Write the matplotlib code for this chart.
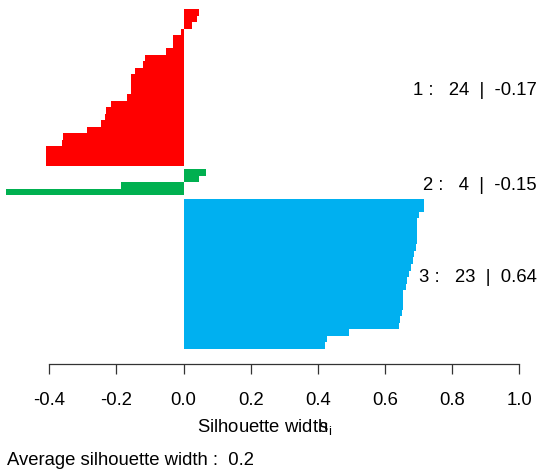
import matplotlib
matplotlib.use("Agg")
import matplotlib.pyplot as plt
import numpy as np

# silhouette widths, sorted within each cluster (top bar first)
sil_1 = [0.045, 0.039, 0.024, -0.006, -0.030, -0.030, -0.051, -0.114,
         -0.120, -0.144, -0.156, -0.156, -0.156, -0.168, -0.216, -0.231,
         -0.234, -0.246, -0.287, -0.359, -0.362, -0.410, -0.410, -0.410]
sil_2 = [0.066, 0.045, -0.186, -0.530]
sil_3 = [0.716, 0.716, 0.701, 0.695, 0.695, 0.695, 0.695, 0.692, 0.686,
         0.683, 0.677, 0.671, 0.665, 0.662, 0.653, 0.653, 0.653, 0.650,
         0.644, 0.641, 0.494, 0.428, 0.422]
clusters = [sil_1, sil_2, sil_3]
cluster_labels = ["1 :   24  |  -0.17", "2 :   4  |  -0.15", "3 :   23  |  0.64"]
colors = ["#FF0000", "#00B050", "#00B0F0"]
xticks = [-0.4, -0.2, 0.0, 0.2, 0.4, 0.6, 0.8, 1.0]
xtick_labels = ["-0.4", "-0.2", "0.0", "0.2", "0.4", "0.6", "0.8", "1.0"]
avg_width = "0.2"

plt.rcParams["font.family"] = ["Liberation Sans", "DejaVu Sans"]
plt.rcParams["axes.unicode_minus"] = False
FS = 13.3

W, H = 540, 477
fig = plt.figure(figsize=(W / 100, H / 100), dpi=100)
ax = fig.add_axes([0, (H - 364.5) / H, 1, 364.5 / H])

gap = 0.5
start = 0.0
centers = []
for vals, col in zip(clusters, colors):
    pos = start + np.arange(len(vals))
    ax.barh(pos, vals, height=1.0, color=col, linewidth=0)
    centers.append(pos.mean())
    start = pos[-1] + 1 + gap

unit = (350 - 10) / (start - gap)
ax.set_ylim(-0.5 + (364.5 - 10) / unit, -0.5 - 10 / unit)
ax.set_xlim(-183.5 / 335.5, (W - 183.5) / 335.5)

for c, lab in zip(centers, cluster_labels):
    ax.text(537 / W, c + 2.5 / unit, lab, transform=ax.get_yaxis_transform(),
            ha="right", va="center", fontsize=FS)

for s in ["top", "right", "left"]:
    ax.spines[s].set_visible(False)
ax.spines["bottom"].set_bounds(xticks[0], xticks[-1])
ax.spines["bottom"].set_linewidth(0.9)
ax.spines["bottom"].set_color("#333333")
ax.set_yticks([])
ax.set_xticks(xticks, xtick_labels, fontsize=FS)
ax.tick_params(axis="x", length=7, width=0.9, pad=13, colors="#333333",
               labelcolor="black")

# R draws the s_i on top of the last letter of the label
fig.text(197 / W, 1 - 427 / H,
         r"Silhouette width$\!\!\!\mathregular{s_i}$",
         ha="left", va="center", fontsize=FS)
fig.text(7 / W, 1 - 461 / H, "Average silhouette width :  " + avg_width,
         ha="left", va="center", fontsize=FS)

fig.savefig("out.png", dpi=100)
